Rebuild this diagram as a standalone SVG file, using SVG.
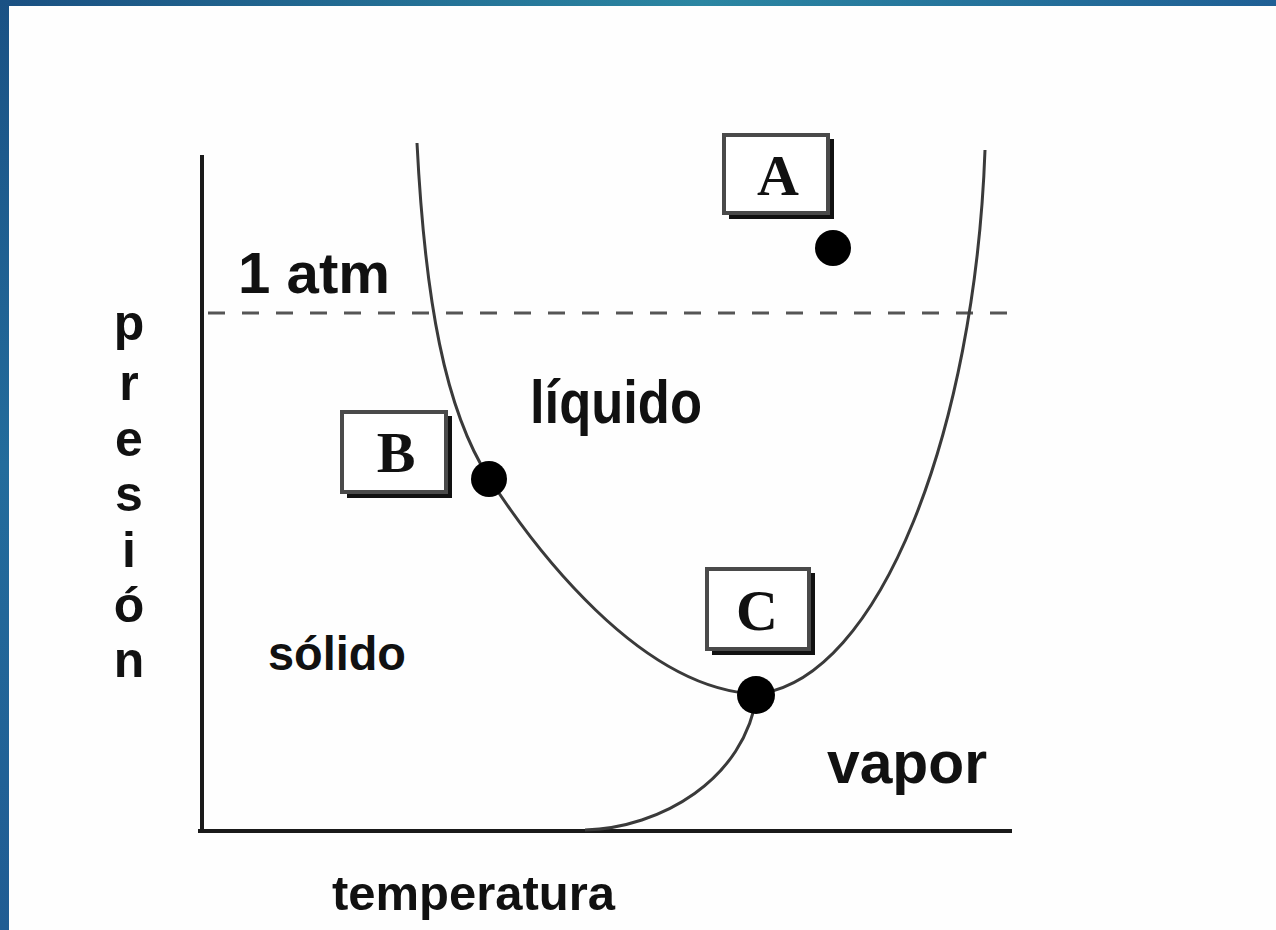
<svg xmlns="http://www.w3.org/2000/svg" width="1276" height="930" viewBox="0 0 1276 930">
<defs>
<linearGradient id="gTop" x1="0" y1="0" x2="1" y2="0">
<stop offset="0" stop-color="#1a5082"/>
<stop offset="0.55" stop-color="#2b86a2"/>
<stop offset="1" stop-color="#1f5f95"/>
</linearGradient>
<linearGradient id="gLeft" x1="0" y1="0" x2="0" y2="1">
<stop offset="0" stop-color="#1a5184"/>
<stop offset="0.5" stop-color="#236c9c"/>
<stop offset="1" stop-color="#205c93"/>
</linearGradient>
<style>
.lbl{font-family:"Liberation Sans",Arial,sans-serif;font-weight:bold;fill:#111}
.let{font-family:"Liberation Serif","Times New Roman",serif;font-weight:bold;fill:#111;text-anchor:middle}
.box{fill:#fff;stroke:#4a4a4a;stroke-width:4}
.shadow{fill:none;stroke:#111;stroke-width:4}
.curve{fill:none;stroke:#3a3a3a;stroke-width:3}
.axis{fill:none;stroke:#1a1a1a;stroke-width:4}
.dot{fill:#000}
</style>
</defs>
<rect x="0" y="0" width="1276" height="930" fill="#fefefe"/>
<rect x="0" y="0" width="1276" height="6" fill="url(#gTop)"/>
<rect x="0" y="0" width="9" height="930" fill="url(#gLeft)"/>

<g id="axes">
<line class="axis" x1="202" y1="155" x2="202" y2="831"/>
<line class="axis" x1="198" y1="831" x2="1012" y2="831"/>
</g>

<g id="connectors">
<line x1="208" y1="313" x2="1020" y2="313" stroke="#555" stroke-width="3" stroke-dasharray="17 17"/>
<path class="curve" d="M417,143 C425,300 445,410 489,478 C533,546 640,690 757,694"/>
<path class="curve" d="M757,694 C880,680 975,430 985,150"/>
<path class="curve" d="M757,694 C745,780 660,828 585,830"/>
</g>

<g id="labels">
<text class="lbl" x="238" y="293" font-size="57" textLength="152" lengthAdjust="spacingAndGlyphs">1 atm</text>
<text class="lbl" x="530" y="423" font-size="62" textLength="172" lengthAdjust="spacingAndGlyphs">líquido</text>
<text class="lbl" x="268" y="670" font-size="48" textLength="138" lengthAdjust="spacingAndGlyphs">sólido</text>
<text class="lbl" x="827" y="783" font-size="60" textLength="160" lengthAdjust="spacingAndGlyphs">vapor</text>
<text class="lbl" x="332" y="910" font-size="49" textLength="283" lengthAdjust="spacingAndGlyphs">temperatura</text>
<text class="lbl" font-size="50" text-anchor="middle"><tspan x="129" y="340">p</tspan><tspan x="129" y="400">r</tspan><tspan x="129" y="456">e</tspan><tspan x="129" y="511">s</tspan><tspan x="129" y="567">i</tspan><tspan x="129" y="622">ó</tspan><tspan x="129" y="677">n</tspan></text>
</g>

<g id="nodeA">
<rect class="box" x="724" y="135" width="104" height="78"/>
<path class="shadow" d="M832,139 V217 H729"/>
<text class="let" x="778" y="195" font-size="58">A</text>
<circle class="dot" cx="833" cy="248" r="18"/>
</g>

<g id="nodeB">
<rect class="box" x="342" y="412" width="104" height="80"/>
<path class="shadow" d="M450,416 V496 H347"/>
<text class="let" x="396" y="472" font-size="58">B</text>
<circle class="dot" cx="489" cy="479" r="18"/>
</g>

<g id="nodeC">
<rect class="box" x="707" y="569" width="102" height="80"/>
<path class="shadow" d="M813,573 V653 H712"/>
<text class="let" x="757" y="630" font-size="58">C</text>
<circle class="dot" cx="756" cy="695" r="19"/>
</g>
</svg>
